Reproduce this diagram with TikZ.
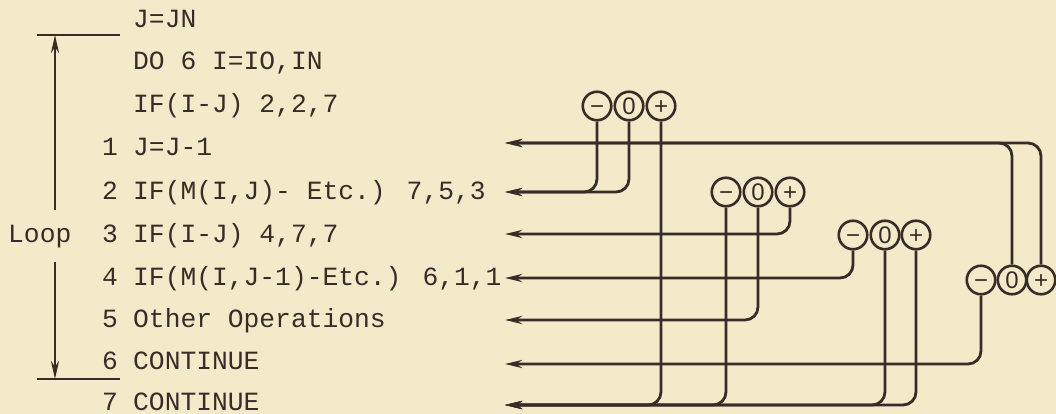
\documentclass[tikz,border=0pt]{standalone}
\usepackage{fontspec}
\usetikzlibrary{arrows.meta}
\newfontfamily\codefont{Liberation Mono}
\newfontfamily\signfont{Liberation Sans}
\definecolor{paper}{RGB}{243,234,201}
\definecolor{ink}{RGB}{55,45,40}

\begin{document}
\begin{tikzpicture}[x=1pt,y=-1pt]
\tikzstyle{line}=[ink,line width=2.8pt]
\tikzstyle{flow}=[line,rounded corners=13pt,-{Stealth[length=17pt,width=8pt]}]
\tikzstyle{sign}=[circle,draw=ink,line width=2.6pt,minimum size=28.5pt,inner sep=0pt,text=ink,text height=17pt,text depth=0pt,font=\signfont\fontsize{24}{24}\selectfont]
\tikzstyle{code}=[anchor=base west,inner sep=0pt,text=ink,font=\codefont\fontsize{26.3}{26}\selectfont]
\fill[paper] (0,0) rectangle (1056,414);
\useasboundingbox (0,0) rectangle (1056,414);
% program lines
\node[code] (s0) at (133,28) {J=JN};
\node[code] (s1) at (133,70) {DO 6 I=IO,IN};
\node[code] (s2) at (133,113) {IF(I-J) 2,2,7};
\node[code] (n1) at (102,156) {1};
\node[code] (s3) at (133,156) {J=J-1};
\node[code] (n2) at (102,199) {2};
\node[code] (s4) at (133,199) {IF(M(I,J)- Etc.) 7,5,3};
\node[code] (n3) at (102,242) {3};
\node[code] (s5) at (133,242) {IF(I-J) 4,7,7};
\node[code] (n4) at (102,285) {4};
\node[code] (s6) at (133,285) {IF(M(I,J-1)-Etc.) 6,1,1};
\node[code] (n5) at (102,327) {5};
\node[code] (s7) at (133,327) {Other Operations};
\node[code] (n6) at (102,369) {6};
\node[code] (s8) at (133,369) {CONTINUE};
\node[code] (n7) at (102,410) {7};
\node[code] (s9) at (133,410) {CONTINUE};
% loop bracket
\node[code,inner ysep=14pt] (loop) at (8,242) {Loop};
\coordinate (ltop) at (55,35);
\coordinate (lbot) at (55,379);
\draw[line] (37,35) -- (120,35);
\draw[line] (37,379) -- (120,379);
\draw[line,-{Stealth[length=18pt,width=8pt]}] (loop.north -| ltop) -- (ltop);
\draw[line,-{Stealth[length=18pt,width=8pt]}] (loop.south -| lbot) -- (lbot);
% branch targets
\coordinate (r1) at (505,143);
\coordinate (r2) at (505,192);
\coordinate (r3) at (505,234);
\coordinate (r4) at (505,278);
\coordinate (r5) at (505,320);
\coordinate (r6) at (505,364);
\coordinate (r7) at (505,405);
% sign circles
\node[sign] (am) at (597,106) {−};
\node[sign] (az) at (629,106) {0};
\node[sign] (ap) at (661,106) {+};
\node[sign] (bm) at (726,192) {−};
\node[sign] (bz) at (758,192) {0};
\node[sign] (bp) at (790,192) {+};
\node[sign] (cm) at (853,235) {−};
\node[sign] (cz) at (885,235) {0};
\node[sign] (cp) at (916,235) {+};
\node[sign] (dm) at (981,280) {−};
\node[sign] (dz) at (1012,280) {0};
\node[sign] (dp) at (1041,280) {+};
% branches
\draw[flow] (am.south) |- (r2);
\draw[flow] (az.south) |- (r2);
\draw[flow] (ap.south) |- (r7);
\draw[flow] (bm.south) |- (r7);
\draw[flow] (bz.south) |- (r5);
\draw[flow] (bp.south) |- (r3);
\draw[flow] (cm.south) |- (r4);
\draw[flow] (cz.south) |- (r7);
\draw[flow] (cp.south) |- (r7);
\draw[flow] (dm.south) |- (r6);
\draw[flow] (dz.north) |- (r1);
\draw[flow] (dp.north) |- (r1);
\end{tikzpicture}
\end{document}
